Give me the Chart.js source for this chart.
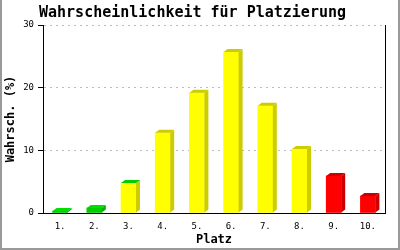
<!DOCTYPE html>
<html>
<head>
<meta charset="utf-8">
<script src="https://cdn.jsdelivr.net/npm/chart.js@4/dist/chart.umd.min.js"></script>
<style>
  body { margin: 0; background: #fff; }
  canvas { display: block; }
</style>
</head>
<body>
<canvas id="platzChart" width="400" height="250"></canvas>
<script>
// chart data
const places = ['1.', '2.', '3.', '4.', '5.', '6.', '7.', '8.', '9.', '10.'];
const probability = [0.3, 0.8, 4.8, 12.8, 19.2, 25.7, 17.1, 10.2, 5.9, 2.7];
const yTicks = [0, 10, 20, 30];

// bar colours (front, side and top face)
const frontColors = ['#00cc00', '#00cc00', '#ffff00', '#ffff00', '#ffff00', '#ffff00', '#ffff00', '#ffff00', '#ff0000', '#ff0000'];
const sideColors = ['#00b000', '#00b000', '#cccc00', '#cccc00', '#cccc00', '#cccc00', '#cccc00', '#cccc00', '#cc0000', '#cc0000'];
const topColors = ['#00dd00', '#00dd00', '#00cc00', '#cccc00', '#cccc00', '#cccc00', '#cccc00', '#cccc00', '#cc0000', '#cc0000'];

const MONO = '"DejaVu Sans Mono", "Liberation Mono", monospace';

// draws the depth faces of each bar plus frame lines
const depthPlugin = {
    id: 'depth',
    afterDatasetsDraw(chart) {
        const ctx = chart.ctx;
        const dx = 4, dy = 3;
        chart.getDatasetMeta(0).data.forEach((bar, i) => {
            const half = bar.width / 2;
            const l = bar.x - half, r = bar.x + half;
            ctx.save();
            ctx.fillStyle = sideColors[i];
            ctx.beginPath();
            ctx.moveTo(r, bar.y);
            ctx.lineTo(r + dx, bar.y - dy);
            ctx.lineTo(r + dx, bar.base - dy);
            ctx.lineTo(r, bar.base);
            ctx.closePath();
            ctx.fill();
            ctx.fillStyle = topColors[i];
            ctx.beginPath();
            ctx.moveTo(l, bar.y);
            ctx.lineTo(l + dx, bar.y - dy);
            ctx.lineTo(r + dx, bar.y - dy);
            ctx.lineTo(r, bar.y);
            ctx.closePath();
            ctx.fill();
            ctx.restore();
        });
    },
    afterDraw(chart) {
        const ctx = chart.ctx;
        const area = chart.chartArea;
        ctx.save();
        // right frame line
        ctx.strokeStyle = '#000';
        ctx.lineWidth = 1;
        ctx.beginPath();
        ctx.moveTo(Math.round(area.right) + 0.5, area.top);
        ctx.lineTo(Math.round(area.right) + 0.5, area.bottom + 0.5);
        ctx.stroke();
        // grey outer border
        ctx.strokeStyle = '#999';
        ctx.lineWidth = 2;
        ctx.beginPath();
        ctx.moveTo(1, 0);
        ctx.lineTo(1, chart.height - 1);
        ctx.lineTo(chart.width - 1, chart.height - 1);
        ctx.lineTo(chart.width - 1, 0);
        ctx.stroke();
        ctx.restore();
    }
};

function initPlatzChart() {
    const ctx = document.getElementById('platzChart').getContext('2d');
    return new Chart(ctx, {
        type: 'bar',
        data: {
            labels: places,
            datasets: [{
                label: 'Wahrsch. (%)',
                data: probability,
                backgroundColor: frontColors,
                borderWidth: 0,
                barThickness: 15
            }]
        },
        options: {
            responsive: false,
            animation: false,
            layout: { padding: { left: 0, right: 15, top: 0, bottom: 0 } },
            plugins: {
                legend: { display: false },
                tooltip: { enabled: false },
                title: {
                    display: true,
                    text: 'Wahrscheinlichkeit für Platzierung',
                    color: '#000',
                    font: { family: MONO, size: 15, weight: 'bold', lineHeight: 1.2 },
                    padding: { top: 4, bottom: 3 }
                }
            },
            scales: {
                x: {
                    grid: { display: false, drawTicks: false },
                    border: { display: true, color: '#000', width: 1 },
                    ticks: {
                        color: '#000',
                        padding: 8,
                        maxRotation: 0,
                        font: { family: MONO, size: 9 }
                    },
                    title: {
                        display: true,
                        text: 'Platz',
                        color: '#000',
                        font: { family: MONO, size: 12, weight: 'bold', lineHeight: 1.2 },
                        padding: { top: 0, bottom: 3 }
                    },
                    afterFit(scale) { scale.height = 37; }
                },
                y: {
                    min: 0,
                    max: 30,
                    afterBuildTicks(scale) {
                        scale.ticks = yTicks.map(v => ({ value: v }));
                    },
                    grid: {
                        color: c => (c.tick && c.tick.value === 0 ? 'rgba(0,0,0,0)' : '#bbb'),
                        tickColor: '#000',
                        tickBorderDash: [],
                        tickLength: 5,
                        drawTicks: true
                    },
                    border: { display: true, color: '#000', width: 1, dash: [2, 4] },
                    ticks: {
                        color: '#000',
                        padding: 4,
                        font: { family: MONO, size: 9 }
                    },
                    title: {
                        display: true,
                        text: 'Wahrsch. (%)',
                        color: '#000',
                        font: { family: MONO, size: 12, weight: 'bold', lineHeight: 1.2 },
                        padding: { top: 4, bottom: 0 }
                    },
                    afterFit(scale) { scale.width = 43; }
                }
            }
        },
        plugins: [depthPlugin]
    });
}

document.addEventListener('DOMContentLoaded', () => {
    initPlatzChart();
});
</script>
</body>
</html>
